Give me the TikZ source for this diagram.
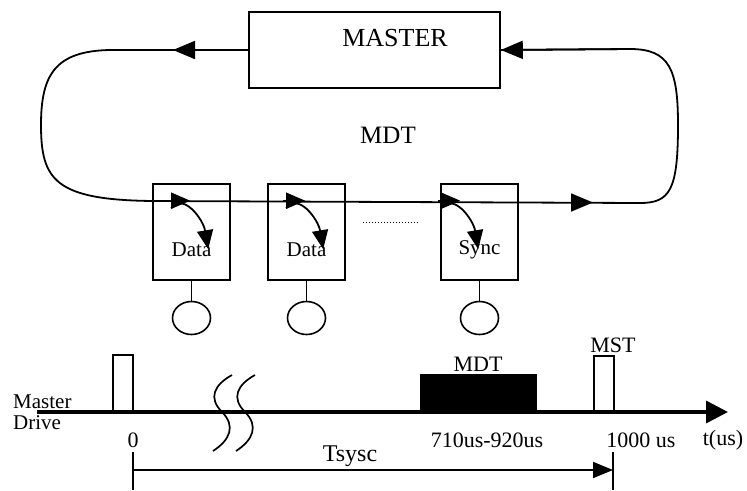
\documentclass[tikz,border=0pt]{standalone}
\usepackage{fontspec}
\setmainfont{Liberation Serif}
\usetikzlibrary{arrows.meta, shapes.geometric, positioning, calc}

\begin{document}
\begin{tikzpicture}[x=1pt, y=-1pt,
        unit/.style={draw, line width=1.6pt, minimum width=77pt, minimum height=96pt, inner sep=0pt},
        motor/.style={draw, ellipse, line width=1.6pt, minimum width=38pt, minimum height=33pt, inner sep=0pt},
        wire/.style={line width=1.8pt},
        tip/.style={-{Triangle[length=22pt, width=18pt]}, line width=1.8pt},
        hooktip/.style={-{Triangle[length=19pt, width=16pt]}, line width=1.8pt},
        pulse/.style={draw, line width=1.8pt},
        lbl/.style={font=\fontsize{22}{22}\selectfont, inner sep=0pt}
    ]
        \useasboundingbox (0,0) rectangle (747,490);

        % Master and ring
        \node[draw, line width=1.6pt, minimum width=251pt, minimum height=76pt] (master) at (374.5,50) {};
        \node[font=\fontsize{26}{26}\selectfont, inner sep=0pt] (mname) at (395,38) {MASTER};
        \node[font=\fontsize{25}{25}\selectfont, inner sep=0pt] (mdt) at (388,135) {MDT};

        \draw[wire] (master.west) -- (110,50) .. controls (55,51) and (41,75) .. (41,125)
            .. controls (41,180) and (55,200) .. (153,201) -- (640,203)
            .. controls (670,203) and (678,190) .. (678,125)
            .. controls (678,70) and (670,49) .. (630,49) -- (master.east);
        \coordinate (lefttip) at (173,50);
        \coordinate (righttip) at (593,202.5);
        \draw[tip] (master.west) -- (lefttip);
        \draw[tip] (630,49) -- (master.east);
        \draw[tip] (560,202.5) -- (righttip);

        % Slaves
        \foreach \n/\x/\t/\h in {1/191.5/Data/0, 2/306.5/Data/0, 3/479.5/Sync/-18} {
            \node[unit] (s\n) at (\x,232) {};
            \node[lbl, font=\fontsize{21}{21}\selectfont] (t\n) at (\x,250) {\t};
            \node[motor] (m\n) at (\x,318) {};
            \draw[line width=1.6pt] (s\n.south) -- (m\n.north);
            \draw[hooktip] ($(s\n.north west)+(16+\h,17.5)$) -- ++(22,0);
            \draw[hooktip] ($(s\n.north west)+(19+\h,25)$) .. controls +(12,-16) and +(-5,-30) .. ($(s\n.north west)+(56+\h,66)$);
        }
        \draw[dotted, line width=1pt] (363,222) -- (420,222);

        % Time line
        \coordinate (t0) at (37,412);
        \coordinate (tend) at (728,412);
        \draw[line width=3.5pt, -{Triangle[length=22pt, width=22pt]}] (t0) -- (tend);
        \draw[pulse] (113,412) rectangle (133,355);
        \draw[pulse] (594,412) rectangle (614,356);
        \fill (420,374) rectangle (537,412);
        \node[lbl] (mdtlbl) at (478,364) {MDT};
        \node[lbl] (mstlbl) at (613,345) {MST};
        \node[lbl, anchor=west, align=left, font=\fontsize{21}{21}\selectfont] (drive) at (13,412) {Master\\Drive};

        % break marks
        \foreach \d in {0,23} {
            \draw[line width=1.7pt, xshift=\d] (232,375) .. controls (214,385) and (208,398) .. (222,412)
                .. controls (236,426) and (230,440) .. (213,451);
        }

        % Labels
        \node[lbl] (zero) at (133,440) {0};
        \node[lbl] (win) at (487,440) {710us-920us};
        \node[lbl] (cyc) at (641,440) {1000 us};
        \node[lbl] (unit) at (723,440) {t(us)};

        % Cycle time
        \coordinate (c0) at (133,470);
        \coordinate (c1) at (613,470);
        \draw[line width=1.6pt] (133,452) -- (133,490);
        \draw[line width=1.6pt] (613,452) -- (613,490);
        \draw[line width=1.7pt, -{Triangle[length=20pt, width=16pt]}] (c0) -- (c1);
        \node[lbl, font=\fontsize{24}{24}\selectfont] (tsysc) at (350,456) {Tsysc};
    \end{tikzpicture}
\end{document}
